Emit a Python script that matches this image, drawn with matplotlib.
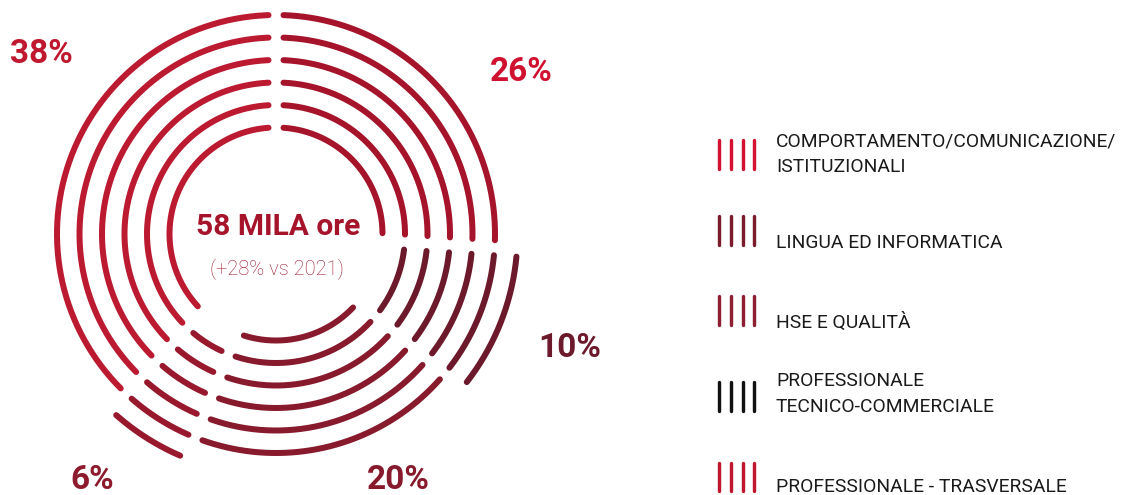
import numpy as np
import matplotlib
matplotlib.use("Agg")
import matplotlib.pyplot as plt

# segments clockwise from 12 o'clock
pct = [26, 10, 20, 6, 38]
pct_labels = ["26%", "10%", "20%", "6%", "38%"]
seg_colors = ["#a5142b", "#6c1a2b", "#881a2d", "#98192e", "#bb1a31"]
label_colors = ["#d0112f", "#6c1a2b", "#881a2d", "#8e1a2e", "#c0182f"]
ring_shift = [0, 1, 0, 1, 0]  # 10% and 6% sit one ring further out

legend_labels = ["COMPORTAMENTO/COMUNICAZIONE/\nISTITUZIONALI", "LINGUA ED INFORMATICA",
                 "HSE E QUALITÀ", "PROFESSIONALE\nTECNICO-COMMERCIALE",
                 "PROFESSIONALE - TRASVERSALE"]
legend_colors = ["#d41130", "#7a1c2c", "#8e1e32", "#111111", "#c0172f"]

total_text = "58 MILA ore"
sub_text = "(+28% vs 2021)"

plt.rcParams['font.family'] = ['Roboto', 'DejaVu Sans']

W, H = 1124, 495
fig = plt.figure(figsize=(W / 100, H / 100), dpi=100)
ax = fig.add_axes([0, 0, 1, 1])
ax.set_xlim(0, W)
ax.set_ylim(H, 0)
ax.axis('off')

cx, cy = 276, 234
r0, dr = 106.5, 22.5
n_rings = 6
lw = 6 * 72 / 100
gap = 7.5  # px from boundary to line end

bounds = np.concatenate([[0], np.cumsum(pct)]) / 100 * 2 * np.pi
for i in range(len(pct)):
    a0, a1 = bounds[i], bounds[i + 1]
    for k in range(n_rings):
        r = r0 + dr * (k + ring_shift[i])
        t = np.linspace(a0 + gap / r, a1 - gap / r, 200)
        ax.plot(cx + r * np.sin(t), cy - r * np.cos(t), color=seg_colors[i],
                lw=lw, solid_capstyle='round')

# percentage labels
label_pos = [(521, 72), (570, 348), (398, 480), (92, 480), (41, 54)]
for (x, y), s, c in zip(label_pos, pct_labels, label_colors):
    ax.text(x, y, s, fontsize=24, fontweight='bold', color=c, ha='center', va='center')

ax.text(278, 227, total_text, fontsize=21.5, fontweight='bold', color='#a5142b',
        ha='center', va='center')
ax.text(277, 269, sub_text, fontsize=14.5, fontweight='light', color='#9c1a30',
        ha='center', va='center')

# legend
bar_x = [718.5, 730.9, 742.6, 753.7]
bar_y = [(138.5, 170.3), (214.6, 246.8), (294.5, 326.4), (380, 412.6), (461.6, 493)]
text_base = [146.2, 247.5, 328, 385.8, 491.5]
for lab, col, (y0, y1), yb in zip(legend_labels, legend_colors, bar_y, text_base):
    for bx in bar_x:
        ax.plot([bx, bx], [y0 + 1.7, y1 - 1.7], color=col, lw=3.4 * 0.72,
                solid_capstyle='round')
    for j, line in enumerate(lab.split("\n")):
        ax.text(776, yb + j * 26, line, fontsize=13.9, color='#1a1a1a',
                ha='left', va='baseline')

fig.savefig("out.png", dpi=100)
